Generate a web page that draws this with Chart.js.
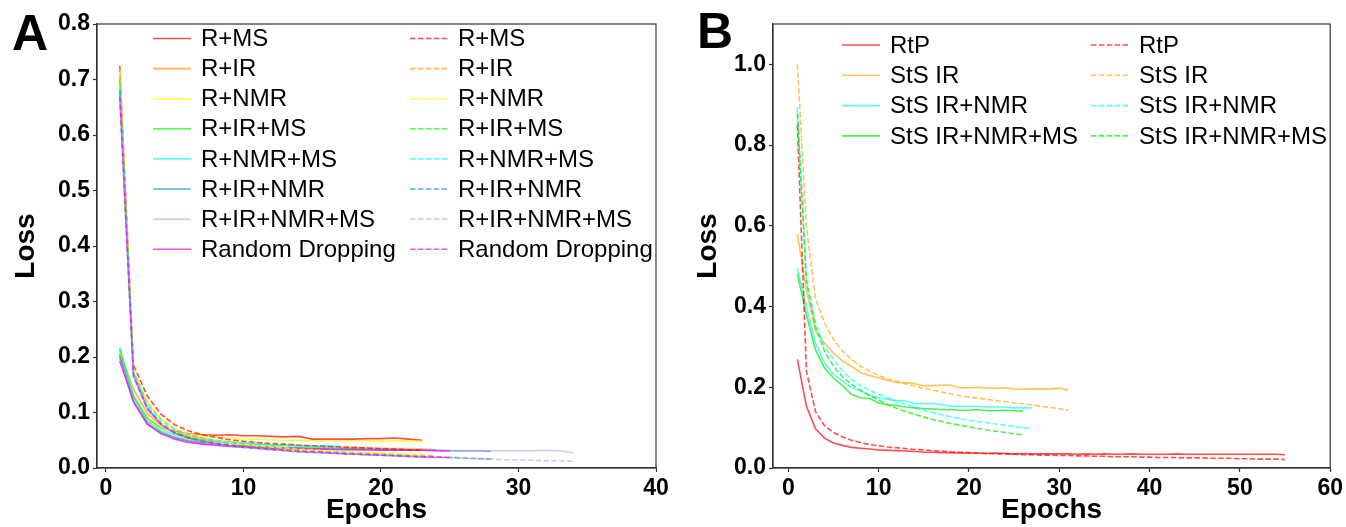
<!DOCTYPE html>
<html><head><meta charset="utf-8">
<script src="https://cdn.jsdelivr.net/npm/chart.js@4.4.1/dist/chart.umd.min.js"></script>
<style>
html,body{margin:0;padding:0;background:#fff;width:1346px;height:527px;overflow:hidden;position:relative;}
canvas{position:absolute;top:0;}
.letter{position:absolute;font:bold 50px "Liberation Sans",Arial,sans-serif;color:#000;line-height:1;}
</style></head><body>
<canvas id="cA" width="672" height="527" style="left:0;width:672px;height:527px;"></canvas>
<canvas id="cB" width="666" height="527" style="left:680px;width:666px;height:527px;"></canvas>
<div class="letter" style="left:12px;top:8px;">A</div>
<div class="letter" style="left:697px;top:6px;">B</div>
<script>
// ---------- Panel A data ----------
const epochsA = [1,2,3,4,5,6,7,8,9,10,11,12,13,14,15,16,17,18,19,20,21,22,23,24,25,26,27,28,29,30,31,32,33,34];
const namesA = ['R+MS','R+IR','R+NMR','R+IR+MS','R+NMR+MS','R+IR+NMR','R+IR+NMR+MS','Random Dropping'];
const xTicksA = [0,10,20,30,40];
const yTicksA = [0,0.1,0.2,0.3,0.4,0.5,0.6,0.7,0.8];

const solidA_RMS   = [0.205,0.130,0.090,0.073,0.066,0.062,0.060,0.059,0.060,0.058,0.058,0.057,0.056,0.057,0.052,0.052,0.052,0.052,0.053,0.053,0.054,0.052,0.050];
const solidA_RIR   = [0.212,0.142,0.099,0.076,0.064,0.057,0.052,0.049,0.047,0.045,0.043,0.042,0.041,0.040,0.039,0.038,0.037,0.037,0.036,0.035,0.035,0.034,0.034,0.033];
const solidA_RNMR  = [0.210,0.132,0.092,0.074,0.065,0.061,0.058,0.056,0.054,0.053,0.052,0.051,0.050,0.050,0.049,0.049,0.049,0.049,0.049,0.048,0.049,0.048,0.048];
const solidA_RIRMS = [0.215,0.128,0.085,0.066,0.056,0.050,0.046,0.043,0.041,0.040,0.039,0.038,0.037,0.036,0.036,0.035,0.035,0.034,0.034,0.033,0.033,0.033,0.032];
const solidA_RNMRMS= [0.217,0.130,0.090,0.070,0.060,0.054,0.050,0.047,0.045,0.044,0.043,0.042,0.041,0.041,0.040,0.040,0.039];
const solidA_RIRNMR= [0.200,0.120,0.080,0.063,0.054,0.048,0.044,0.042,0.040,0.039,0.038,0.037,0.036,0.036,0.035,0.035,0.034,0.034,0.033,0.033,0.033,0.032,0.032,0.032,0.031,0.031,0.031,0.030];
const solidA_ALL   = [0.197,0.118,0.078,0.062,0.053,0.047,0.044,0.041,0.039,0.038,0.037,0.036,0.035,0.035,0.034,0.034,0.033,0.033,0.033,0.032,0.032,0.032,0.032,0.031,0.031,0.031,0.031,0.031,0.031,0.031,0.031,0.032,0.031,0.027];
const solidA_RAND  = [0.193,0.120,0.080,0.062,0.052,0.046,0.043,0.041,0.039,0.038,0.037,0.036,0.035,0.035,0.034,0.034,0.033,0.033,0.033,0.032,0.032,0.032,0.032,0.031,0.031];

const dashA_RMS    = [0.725,0.186,0.130,0.097,0.078,0.067,0.060,0.055,0.051,0.048,0.046,0.044,0.043,0.041,0.040,0.039,0.038,0.037,0.036,0.035,0.034,0.033,0.032];
const dashA_RIR    = [0.722,0.176,0.118,0.088,0.071,0.061,0.054,0.049,0.045,0.042,0.039,0.037,0.035,0.033,0.032,0.030,0.029,0.028,0.027,0.026,0.025,0.024,0.023,0.022];
const dashA_RNMR   = [0.712,0.178,0.120,0.089,0.072,0.062,0.055,0.050,0.046,0.043,0.040,0.038,0.036,0.034,0.033,0.031,0.030,0.029,0.028,0.027,0.026,0.025,0.025];
const dashA_RIRMS  = [0.700,0.170,0.110,0.081,0.065,0.056,0.050,0.045,0.042,0.039,0.036,0.034,0.032,0.031,0.029,0.028,0.027,0.026,0.025,0.024,0.023,0.022,0.021];
const dashA_RNMRMS = [0.690,0.173,0.115,0.085,0.069,0.060,0.054,0.050,0.047,0.045,0.043,0.041,0.040,0.039,0.038,0.037,0.036];
const dashA_RIRNMR = [0.680,0.168,0.108,0.079,0.063,0.054,0.048,0.044,0.040,0.037,0.035,0.033,0.031,0.029,0.028,0.027,0.026,0.025,0.024,0.023,0.022,0.021,0.020,0.019,0.019,0.018,0.017,0.016];
const dashA_ALL    = [0.675,0.166,0.106,0.078,0.062,0.053,0.047,0.043,0.040,0.037,0.035,0.033,0.031,0.029,0.028,0.027,0.026,0.025,0.024,0.023,0.022,0.021,0.020,0.019,0.019,0.018,0.017,0.016,0.015,0.015,0.014,0.013,0.013,0.012];
const dashA_RAND   = [0.670,0.165,0.107,0.079,0.063,0.054,0.048,0.044,0.041,0.038,0.036,0.034,0.032,0.030,0.029,0.028,0.026,0.025,0.024,0.023,0.022,0.021,0.020,0.020,0.019];

const colorsA = ['rgba(255,0,0,0.7)','rgba(255,150,0,0.7)','rgba(255,255,0,0.75)','rgba(0,255,0,0.7)','rgba(0,255,255,0.65)','rgba(20,135,220,0.7)','rgba(190,160,235,0.6)','rgba(255,0,255,0.7)'];

// ---------- Panel B data ----------
const epochsB = [1,2,3,4,5,6,7,8,9,10,11,12,13,14,15,16,17,18,19,20,21,22,23,24,25,26,27,28,29,30,31,32,33,34,35,36,37,38,39,40,41,42,43,44,45,46,47,48,49,50,51,52,53,54,55];
const namesB = ['RtP','StS IR','StS IR+NMR','StS IR+NMR+MS'];
const xTicksB = [0,10,20,30,40,50,60];
const yTicksB = [0,0.2,0.4,0.6,0.8,1.0];

const solidB_RtP = [0.269,0.153,0.097,0.074,0.062,0.056,0.051,0.049,0.047,0.045,0.044,0.043,0.042,0.041,0.039,0.039,0.038,0.038,0.037,0.037,0.037,0.036,0.037,0.036,0.035,0.036,0.035,0.035,0.035,0.035,0.035,0.034,0.035,0.034,0.035,0.034,0.034,0.035,0.034,0.034,0.034,0.034,0.035,0.034,0.034,0.034,0.034,0.034,0.034,0.034,0.034,0.034,0.034,0.034,0.033];
const solidB_IR = [0.580,0.440,0.340,0.310,0.285,0.265,0.252,0.236,0.229,0.223,0.217,0.212,0.211,0.209,0.204,0.204,0.205,0.205,0.199,0.199,0.200,0.198,0.197,0.199,0.196,0.195,0.196,0.196,0.196,0.198,0.193];
const solidB_IRNMR = [0.495,0.400,0.310,0.260,0.232,0.215,0.200,0.190,0.180,0.174,0.170,0.167,0.166,0.160,0.159,0.159,0.157,0.153,0.153,0.153,0.153,0.151,0.151,0.151,0.149,0.149,0.149];
const solidB_IRNMRMS = [0.480,0.380,0.293,0.248,0.223,0.204,0.182,0.174,0.172,0.161,0.156,0.155,0.151,0.149,0.147,0.146,0.145,0.145,0.143,0.143,0.145,0.142,0.142,0.143,0.142,0.141];

const dashB_RtP = [0.850,0.240,0.140,0.105,0.088,0.077,0.069,0.063,0.058,0.055,0.052,0.050,0.048,0.046,0.045,0.043,0.042,0.040,0.039,0.038,0.037,0.036,0.035,0.035,0.034,0.033,0.033,0.032,0.032,0.031,0.031,0.030,0.030,0.029,0.029,0.028,0.028,0.028,0.027,0.027,0.026,0.026,0.026,0.025,0.025,0.025,0.024,0.024,0.024,0.023,0.023,0.022,0.022,0.022,0.021];
const dashB_IR = [1.000,0.600,0.420,0.360,0.318,0.290,0.269,0.252,0.240,0.229,0.221,0.215,0.208,0.203,0.197,0.193,0.188,0.184,0.179,0.176,0.173,0.170,0.167,0.164,0.161,0.159,0.156,0.153,0.150,0.147,0.143];
const dashB_IRNMR = [0.895,0.470,0.360,0.300,0.270,0.240,0.219,0.204,0.193,0.182,0.174,0.165,0.158,0.150,0.143,0.137,0.132,0.127,0.122,0.118,0.115,0.112,0.109,0.106,0.103,0.100,0.097];
const dashB_IRNMRMS = [0.880,0.460,0.350,0.290,0.252,0.226,0.207,0.193,0.180,0.168,0.157,0.148,0.140,0.133,0.126,0.120,0.115,0.110,0.106,0.102,0.098,0.094,0.091,0.088,0.085,0.082];

const colorsB = ['rgba(255,0,0,0.7)','rgba(255,165,0,0.65)','rgba(0,255,255,0.65)','rgba(0,235,0,0.7)'];

// ---------- helpers ----------
const FAM = '"Liberation Sans", Arial, Helvetica, sans-serif';
const DASH = [5.5, 2.4];

function makeSets(names, epochs, solids, dashes, colors) {
  const list = [];
  names.forEach((n, i) => list.push({name: n, vals: solids[i], color: colors[i], dash: []}));
  names.forEach((n, i) => list.push({name: n, vals: dashes[i], color: colors[i], dash: DASH}));
  const N = list.length;
  return list.map((s, i) => ({
    label: s.name,
    data: s.vals.map((v, k) => ({x: epochs[k], y: v})),
    borderColor: s.color,
    backgroundColor: s.color,
    borderWidth: 1.6,
    borderDash: s.dash,
    pointRadius: 0,
    pointHoverRadius: 0,
    fill: false,
    tension: 0,
    order: N - i
  }));
}

const frameLegend = {
  id: 'frameLegend',
  afterDatasetsDraw(chart, args, opts) {
    const ctx = chart.ctx, a = chart.chartArea;
    ctx.save();
    ctx.setLineDash([]);
    ctx.strokeStyle = '#333';
    ctx.lineWidth = 1.2;
    ctx.strokeRect(a.left, a.top, a.right - a.left, a.bottom - a.top);
    ctx.font = opts.font;
    ctx.textBaseline = 'middle';
    ctx.textAlign = 'left';
    chart.data.datasets.forEach((ds, i) => {
      const col = Math.floor(i / opts.rows), row = i % opts.rows;
      const y = opts.y0 + row * opts.dy;
      const x = opts.cols[col];
      ctx.strokeStyle = ds.borderColor;
      ctx.lineWidth = ds.borderWidth;
      ctx.setLineDash(ds.borderDash);
      ctx.beginPath(); ctx.moveTo(x, y); ctx.lineTo(x + opts.len, y); ctx.stroke();
      ctx.setLineDash([]);
      ctx.fillStyle = '#000';
      ctx.fillText(ds.label, x + opts.len + opts.gap, y + 1);
    });
    ctx.restore();
  }
};

function axisCommon(ticksArr, fmt, fitFn, titleText, titlePad) {
  return {
    type: 'linear',
    afterBuildTicks: s => { s.ticks = ticksArr.map(v => ({value: v})); },
    afterFit: fitFn,
    ticks: {font: {family: FAM, size: 23, weight: 'bold'}, color: '#000', padding: 3, maxRotation: 0, autoSkip: false, callback: fmt},
    grid: {display: true, drawOnChartArea: false, drawTicks: true, tickLength: 4, color: '#333', tickWidth: 1.2},
    border: {display: true, color: '#333', width: 1.2},
    title: {display: true, text: titleText, font: {family: FAM, size: 28, weight: 'bold'}, color: '#000', padding: titlePad}
  };
}

function makeChart(id, datasets, cfg) {
  return new Chart(document.getElementById(id), {
    type: 'line',
    data: {datasets},
    options: {
      responsive: false,
      animation: false,
      devicePixelRatio: 1,
      layout: {padding: {left: 0, right: cfg.padRight, top: 24, bottom: 0}},
      plugins: {legend: {display: false}, title: {display: false}, tooltip: {enabled: false}, frameLegend: cfg.legend},
      scales: {
        x: Object.assign(axisCommon(cfg.xTicks, v => String(v), s => { s.height = 59; }, 'Epochs', {top: 0, bottom: 0}), {min: cfg.xMin, max: cfg.xMax}),
        y: Object.assign(axisCommon(cfg.yTicks, v => Number(v).toFixed(1), s => { s.width = cfg.yWidth; }, 'Loss', {top: cfg.yTitlePad, bottom: 0}), {min: 0, max: cfg.yMax})
      }
    },
    plugins: [frameLegend]
  });
}

makeChart('cA',
  makeSets(namesA, epochsA,
    [solidA_RMS, solidA_RIR, solidA_RNMR, solidA_RIRMS, solidA_RNMRMS, solidA_RIRNMR, solidA_ALL, solidA_RAND],
    [dashA_RMS, dashA_RIR, dashA_RNMR, dashA_RIRMS, dashA_RNMRMS, dashA_RIRNMR, dashA_ALL, dashA_RAND],
    colorsA),
  {padRight: 16, xMin: -0.65, xMax: 40, yMax: 0.8, xTicks: xTicksA, yTicks: yTicksA, yWidth: 97, yTitlePad: 9,
   legend: {rows: 8, y0: 38.5, dy: 30.1, cols: [153, 410], len: 38, gap: 10, font: '24px ' + FAM}});

makeChart('cB',
  makeSets(namesB, epochsB,
    [solidB_RtP, solidB_IR, solidB_IRNMR, solidB_IRNMRMS],
    [dashB_RtP, dashB_IR, dashB_IRNMR, dashB_IRNMRMS],
    colorsB),
  {padRight: 15, xMin: -1.7, xMax: 60, yMax: 1.1, xTicks: xTicksB, yTicks: yTicksB, yWidth: 93, yTitlePad: 11,
   legend: {rows: 4, y0: 45, dy: 30.3, cols: [162, 411], len: 38, gap: 10, font: '24px ' + FAM}});
</script>
</body></html>
